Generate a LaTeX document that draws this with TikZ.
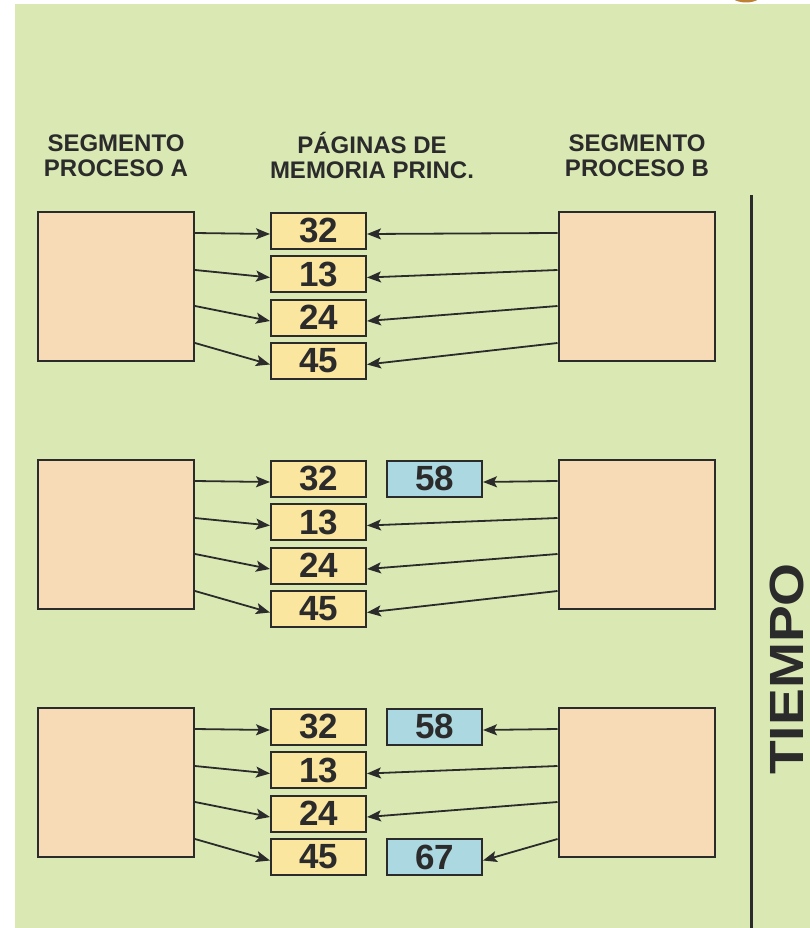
\documentclass[tikz,border=0pt]{standalone}
\usepackage{fontspec}
\setmainfont{Liberation Sans}
\usetikzlibrary{arrows.meta}

\definecolor{fondo}{RGB}{218,233,180}
\definecolor{piel}{RGB}{246,219,182}
\definecolor{amarillo}{RGB}{251,230,160}
\definecolor{celeste}{RGB}{172,216,225}
\definecolor{linea}{RGB}{43,43,43}
\definecolor{marron}{RGB}{190,128,50}

\tikzset{every picture/.style={line width=2pt}}
\tikzset{
  segmento/.style={draw=linea, fill=piel, minimum width=156, minimum height=149, inner sep=0pt},
  pagina/.style={draw=linea, fill=amarillo, minimum width=95, minimum height=36, inner sep=0pt,
    text=linea, font=\fontsize{35}{35}\selectfont\bfseries},
  nueva/.style={pagina, fill=celeste},
  titulo/.style={anchor=north, align=center, inner sep=0pt, text=linea,
    font=\fontsize{24}{25}\selectfont\bfseries},
  flecha/.style={draw=linea, line width=1.8pt, -{Stealth[length=14pt,width=11pt,inset=3pt]}}
}

\begin{document}
\begin{tikzpicture}[x=1pt,y=1pt,yscale=-1,xscale=1]
\useasboundingbox (0,0) rectangle (810,928);

%Background
\fill[fondo] (14.5,4) rectangle (810,928);
\fill[marron] (746,-10) ellipse (19 and 12.5);

% Text Node
\node[titulo] (tA) at (116,134) {SEGMENTO\\PROCESO A};
% Text Node
\node[titulo] (tP) at (372,131.5) {PÁGINAS DE\\MEMORIA PRINC.};
% Text Node
\node[titulo] (tB) at (637,134) {SEGMENTO\\PROCESO B};

%Group 1
\node[segmento] (segA1) at (116,286.5) {};
\node[segmento] (segB1) at (636.5,286.5) {};
\node[pagina] (p32a) at (318.5,230.5) {32};
\node[pagina] (p13a) at (318.5,274) {13};
\node[pagina] (p24a) at (318.5,317.5) {24};
\node[pagina] (p45a) at (318.5,361) {45};
\draw[flecha] ([yshift=22pt]segA1.north east) -- ([yshift=3.5pt]p32a.west);
\draw[flecha] ([yshift=59pt]segA1.north east) -- ([yshift=3.5pt]p13a.west);
\draw[flecha] ([yshift=95pt]segA1.north east) -- ([yshift=3.5pt]p24a.west);
\draw[flecha] ([yshift=132pt]segA1.north east) -- ([yshift=3.5pt]p45a.west);
\draw[flecha] ([yshift=22pt]segB1.north west) -- ([yshift=3.5pt]p32a.east);
\draw[flecha] ([yshift=59pt]segB1.north west) -- ([yshift=3.5pt]p13a.east);
\draw[flecha] ([yshift=95pt]segB1.north west) -- ([yshift=3.5pt]p24a.east);
\draw[flecha] ([yshift=132pt]segB1.north west) -- ([yshift=3.5pt]p45a.east);

%Group 2
\node[segmento] (segA2) at (116,534.5) {};
\node[segmento] (segB2) at (636.5,534.5) {};
\node[pagina] (p32b) at (318.5,478.5) {32};
\node[pagina] (p13b) at (318.5,522) {13};
\node[pagina] (p24b) at (318.5,565.5) {24};
\node[pagina] (p45b) at (318.5,609) {45};
\node[nueva] (p58b) at (434.5,478.5) {58};
\draw[flecha] ([yshift=22pt]segA2.north east) -- ([yshift=3.5pt]p32b.west);
\draw[flecha] ([yshift=59pt]segA2.north east) -- ([yshift=3.5pt]p13b.west);
\draw[flecha] ([yshift=95pt]segA2.north east) -- ([yshift=3.5pt]p24b.west);
\draw[flecha] ([yshift=132pt]segA2.north east) -- ([yshift=3.5pt]p45b.west);
\draw[flecha] ([yshift=22pt]segB2.north west) -- ([yshift=3.5pt]p58b.east);
\draw[flecha] ([yshift=59pt]segB2.north west) -- ([yshift=3.5pt]p13b.east);
\draw[flecha] ([yshift=95pt]segB2.north west) -- ([yshift=3.5pt]p24b.east);
\draw[flecha] ([yshift=132pt]segB2.north west) -- ([yshift=3.5pt]p45b.east);

%Group 3
\node[segmento] (segA3) at (116,782.5) {};
\node[segmento] (segB3) at (636.5,782.5) {};
\node[pagina] (p32c) at (318.5,726.5) {32};
\node[pagina] (p13c) at (318.5,770) {13};
\node[pagina] (p24c) at (318.5,813.5) {24};
\node[pagina] (p45c) at (318.5,857) {45};
\node[nueva] (p58c) at (434.5,726.5) {58};
\node[nueva] (p67c) at (434.5,857) {67};
\draw[flecha] ([yshift=22pt]segA3.north east) -- ([yshift=3.5pt]p32c.west);
\draw[flecha] ([yshift=59pt]segA3.north east) -- ([yshift=3.5pt]p13c.west);
\draw[flecha] ([yshift=95pt]segA3.north east) -- ([yshift=3.5pt]p24c.west);
\draw[flecha] ([yshift=132pt]segA3.north east) -- ([yshift=3.5pt]p45c.west);
\draw[flecha] ([yshift=22pt]segB3.north west) -- ([yshift=3.5pt]p58c.east);
\draw[flecha] ([yshift=59pt]segB3.north west) -- ([yshift=3.5pt]p13c.east);
\draw[flecha] ([yshift=95pt]segB3.north west) -- ([yshift=3.5pt]p24c.east);
\draw[flecha] ([yshift=132pt]segB3.north west) -- ([yshift=3.5pt]p67c.east);

%Time axis
\draw[linea, line width=3.5pt] (751.5,195) -- (751.5,928);
% Text Node
\node[rotate=90, inner sep=0pt, text=linea, font=\fontsize{48}{48}\selectfont\bfseries] (tiempo) at (787,669) {\scalebox{1.15}[1]{TIEMPO}};
\end{tikzpicture}
\end{document}
